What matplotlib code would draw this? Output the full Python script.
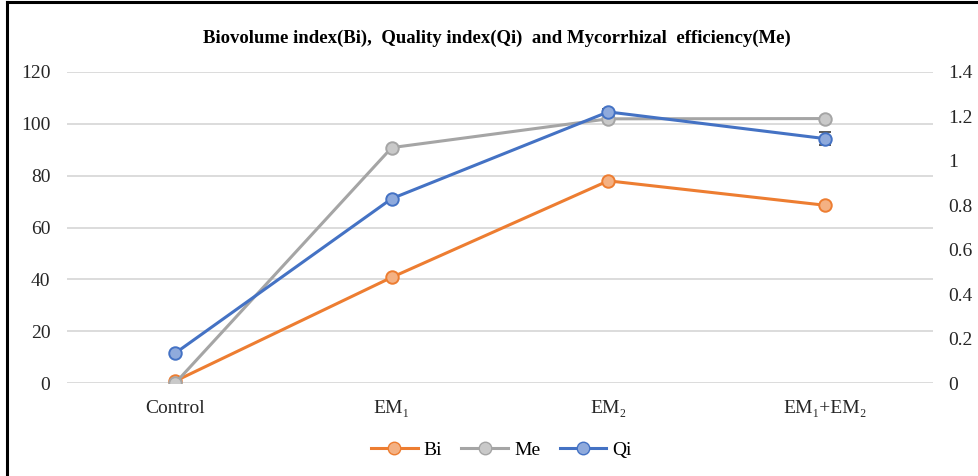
import matplotlib
matplotlib.use("Agg")
import matplotlib.pyplot as plt
from matplotlib.lines import Line2D

plt.rcParams["font.family"] = ["Liberation Serif", "DejaVu Serif"]

categories = ["Control", "EM\u2081", "EM\u2082", "EM\u2081+EM\u2082"]
bi = [0.8, 40.8, 78.0, 68.6]
me = [0.0, 90.8, 101.9, 102.0]
qi = [0.135, 0.83, 1.22, 1.10]
qi_err = [0.005, 0.008, 0.015, 0.03]

orange, orange_face = "#ED7D31", "#F4B183"
grey, grey_face = "#A5A5A5", "#C9C9C9"
blue, blue_face = "#4472C4", "#8FAADC"

fig = plt.figure(figsize=(9.79, 4.76), dpi=100)
ax = fig.add_axes([0.0684, 0.195, 0.8846, 0.654])
ax2 = ax.twinx()

x = list(range(len(categories)))
ax.plot(x, bi, color=orange, lw=2.2, marker="o", ms=9,
        mfc=orange_face, mec=orange, mew=1.4, label="Bi", zorder=3)
ax.plot(x, me, color=grey, lw=2.2, marker="o", ms=9,
        mfc=grey_face, mec=grey, mew=1.4, label="Me", zorder=3)
ax2.errorbar(x, qi, yerr=qi_err, color=blue, lw=2.2, marker="o", ms=9,
             mfc=blue_face, mec=blue, mew=1.4, ecolor="#595959",
             elinewidth=1.2, capsize=4, capthick=1.2, label="Qi", zorder=3)

ax.set_xlim(-0.5, 3.5)
ax.set_ylim(0, 120)
ax.set_yticks(range(0, 121, 20))
ax2.set_ylim(0, 1.4)
ax2.set_yticks([0, 0.2, 0.4, 0.6, 0.8, 1.0, 1.2, 1.4])
ax2.set_yticklabels(["0", "0.2", "0.4", "0.6", "0.8", "1", "1.2", "1.4"])
ax.set_xticks(x)
ax.set_xticklabels(categories)

ax.grid(axis="y", color="#D9D9D9", lw=1.3)
ax.set_axisbelow(True)
for a in (ax, ax2):
    for s in a.spines.values():
        s.set_visible(False)
    a.tick_params(length=0, labelsize=14, colors="#262626")
ax.tick_params(axis="y", pad=12)
ax2.tick_params(axis="y", pad=11)
ax.tick_params(axis="x", pad=12)

fig.text(0.508, 0.92, "Biovolume index(Bi),  Quality index(Qi)  and Mycorrhizal  efficiency(Me)",
         ha="center", va="center", fontsize=13.5, fontweight="bold")

handles = [
    Line2D([], [], color=orange, lw=2.2, marker="o", ms=9, mfc=orange_face, mec=orange),
    Line2D([], [], color=grey, lw=2.2, marker="o", ms=9, mfc=grey_face, mec=grey),
    Line2D([], [], color=blue, lw=2.2, marker="o", ms=9, mfc=blue_face, mec=blue),
]
fig.legend(handles, ["Bi", "Me", "Qi"], loc="center", bbox_to_anchor=(0.512, 0.054),
           ncol=3, frameon=False, fontsize=14, handlelength=2.4,
           columnspacing=1.0, handletextpad=0.3)

# frame lines (left and top)
fig.add_artist(Line2D([0.0072, 0.0072], [0, 0.996], color="black", lw=2.2,
                      transform=fig.transFigure))
fig.add_artist(Line2D([0.0072, 1.0], [0.996, 0.996], color="black", lw=2.2,
                      transform=fig.transFigure))

fig.savefig("out.png", dpi=100)
